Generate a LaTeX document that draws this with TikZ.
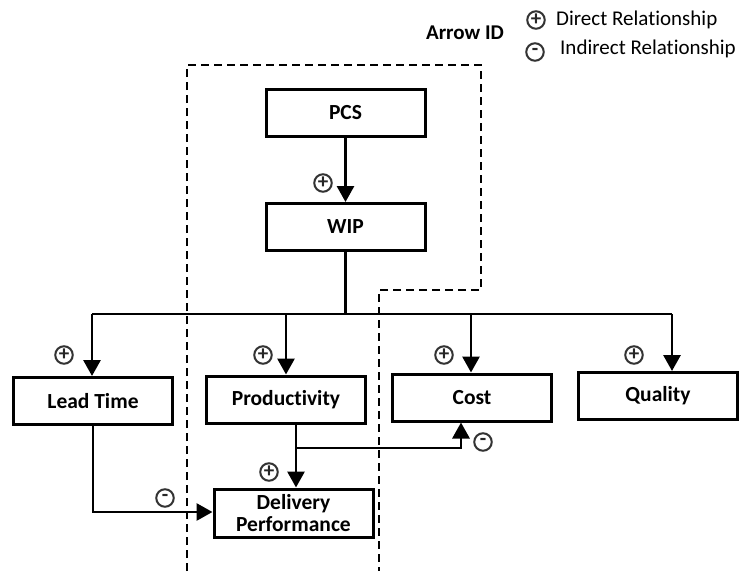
\documentclass[tikz,border=0pt]{standalone}
\usepackage{fontspec}
\setmainfont{Carlito}[Ligatures=NoCommon]
\usetikzlibrary{arrows.meta}
\begin{document}
\begin{tikzpicture}[x=1pt,y=-1pt,
  box/.style={draw,line width=3pt,minimum width=159pt,minimum height=47pt,
    inner sep=0pt,align=center,font=\fontsize{21.5}{22}\selectfont\bfseries},
  link/.style={line width=2.9pt},
  arr/.style={link,-{Triangle[length=16pt,width=17pt]}},
  sgn/.style={circle,draw=black!80,line width=2pt,minimum size=17.5pt,inner sep=0pt,
    text=black!85,font=\fontsize{21}{21}\selectfont\bfseries},
  zone/.style={dashed,dash pattern=on 8pt off 5pt,line width=1.2pt},
  lbl/.style={inner sep=0pt,font=\fontsize{21}{22}\selectfont}]
\useasboundingbox (0,0) rectangle (739,571);

% dashed zone around the core chain
\draw[zone] (187,571) -- (187,65) -- (481,65) -- (481,290) -- (379,290) -- (379,571);

% boxes
\node[box] (pcs) at (345.5,113) {PCS};
\node[box] (wip) at (345.5,227) {WIP};
\node[box] (lt)  at (93,401)    {Lead Time};
\node[box] (prod) at (286,399.5) {Productivity};
\node[box] (cost) at (472,397.5) {Cost};
\node[box] (qual) at (658,396)  {Quality};
\node[box,minimum height=48pt] (dp) at (293.5,513) {Delivery\\Performance};

% junction points
\coordinate (busL) at (92,314);
\coordinate (busR) at (672,314);
\coordinate (pj) at (296,448);
\coordinate (cj) at (461,448);
\coordinate (lj) at (93,512);

% connectors
\draw[arr] (pcs) -- (wip);
\draw[link] (wip.south) -- (wip.south |- busL);
\draw[link] (busL) -- (busR);
\draw[arr] (busL) -- (busL |- lt.north);
\draw[arr] (prod.north |- busL) -- (prod.north);
\draw[arr] (471,314) -- (471,0 |- cost.north);
\draw[arr] (busR) -- (busR |- qual.north);
\draw[link] (prod.south -| pj) -- (pj);
\draw[arr] (pj) -- (pj |- dp.north);
\draw[arr] (pj) -- (cj) -- (cj |- cost.south);
\draw[arr] (lt.south -| lj) -- (lj) -- (lj -| dp.west);

% relationship signs
\node[sgn] (s1) at (323,183) {+};
\node[sgn] (s2) at (64,355) {+};
\node[sgn] (s3) at (263,355) {+};
\node[sgn] (s4) at (444,355) {+};
\node[sgn] (s5) at (634,355) {+};
\node[sgn] (s6) at (269,472) {+};
\node[sgn] (s7) at (483,442) {-};
\node[sgn] (s8) at (165,498) {-};

% legend
\node[lbl,font=\fontsize{21}{22}\selectfont\bfseries] (aid) at (465,33) {Arrow ID};
\node[sgn] (lp) at (536,20) {+};
\node[lbl,anchor=west] (ld) at (556,20) {Direct Relationship};
\node[sgn] (lm) at (535,52) {-};
\node[lbl,anchor=west] (li) at (560,49) {Indirect Relationship};
\end{tikzpicture}
\end{document}
